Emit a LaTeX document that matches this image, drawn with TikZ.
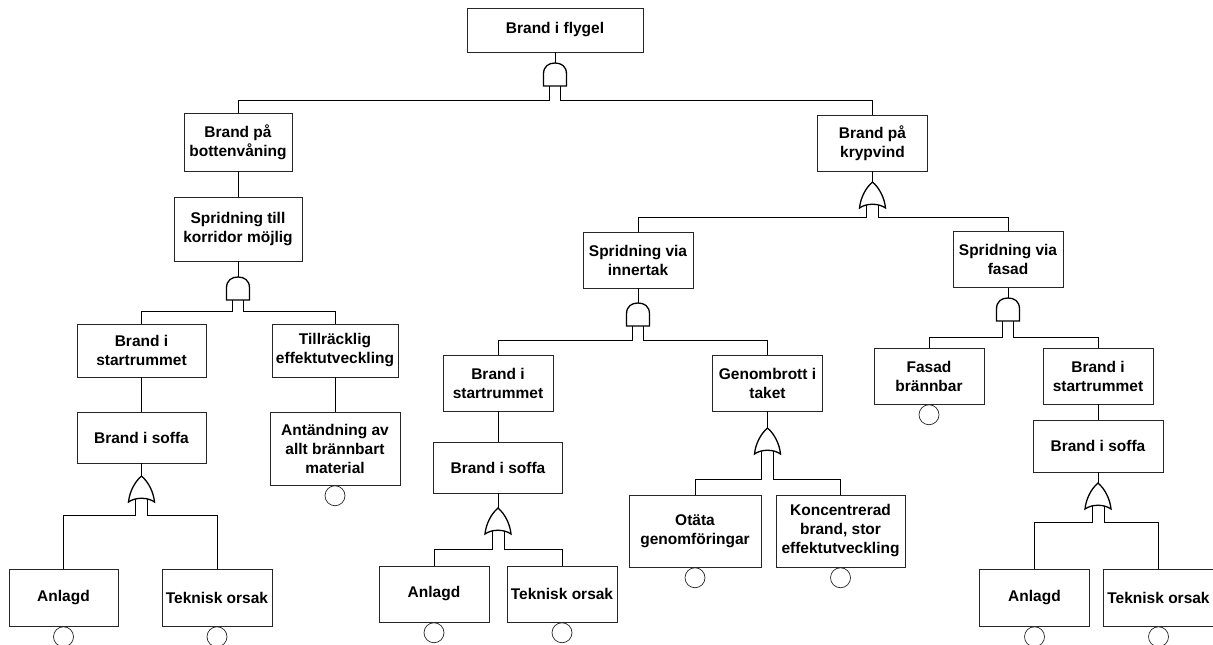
\documentclass[tikz,border=0pt]{standalone}
\usepackage{fontspec}
\setmainfont{Liberation Sans}

\tikzset{
  box/.style={draw=black!85, line width=0.8pt, align=center, minimum width=110pt,
    minimum height=56pt, inner sep=2pt, font=\fontsize{15.5}{19}\selectfont\bfseries},
  wide/.style={minimum width=129pt},
  event/.style={draw=black!85, circle, line width=0.7pt, minimum size=20pt, inner sep=0pt, anchor=north},
  conn/.style={line width=0.8pt},
  gateline/.style={line width=1.3pt},
  andgate/.pic={
    \draw[gateline] (-11.5,23) -- (-11.5,11) .. controls (-11.5,3) and (-6,0) .. (0,0)
      .. controls (6,0) and (11.5,3) .. (11.5,11) -- (11.5,23) -- cycle;
    \coordinate (-t) at (0,0);
    \coordinate (-l) at (-5.5,23);
    \coordinate (-r) at (5.5,23);
    \coordinate (-lb) at (-5.5,23+#1);
    \coordinate (-rb) at (5.5,23+#1);
  },
  orgate/.pic={
    \draw[gateline] (0,0) .. controls (7,6) and (12,16) .. (13,26)
      .. controls (6,21) and (-6,21) .. (-13,26)
      .. controls (-12,16) and (-7,6) .. (0,0) -- cycle;
    \coordinate (-t) at (0,0);
    \coordinate (-l) at (-6,23);
    \coordinate (-r) at (6,23);
    \coordinate (-lb) at (-6,26+#1);
    \coordinate (-rb) at (6,26+#1);
  }
}

\begin{document}
\begin{tikzpicture}[x=1pt, y=-1pt]

  \useasboundingbox (0,0) rectangle (1213,645);

  \node[box, minimum width=176pt, minimum height=44pt] (flygel) at (555,30) {Brand i flygel};

  \node[box, minimum width=108pt, minimum height=58pt] (botten) at (238,142) {Brand på\\bottenvåning};
  \node[box, minimum width=128pt, minimum height=64pt] (korridor) at (238,229) {Spridning till\\korridor möjlig};
  \node[box, wide, minimum height=53pt] (start1) at (141.5,350.5) {Brand i\\startrummet};
  \node[box, minimum width=126pt, minimum height=53pt] (effekt) at (335,350.5) {Tillräcklig\\effektutveckling};
  \node[box, wide, minimum height=51pt] (soffa1) at (141.5,437.5) {Brand i soffa};
  \node[box, minimum width=130pt, minimum height=73pt] (antand) at (335,448.5) {Antändning av\\allt brännbart\\material};
  \node[box, minimum width=109pt, minimum height=57pt] (anlagd1) at (63.5,597.5) {Anlagd};
  \node[box, minimum height=57pt] (teknisk1) at (217,597.5) {Teknisk orsak};

  \node[box] (krypvind) at (872.5,143) {Brand på\\krypvind};
  \node[box] (innertak) at (638,260) {Spridning via\\innertak};
  \node[box] (fasad) at (1008,259.5) {Spridning via\\fasad};
  \node[box] (start2) at (498,383) {Brand i\\startrummet};
  \node[box] (taket) at (767.5,383) {Genombrott i\\taket};
  \node[box, wide, minimum height=51pt] (soffa2) at (498,467.5) {Brand i soffa};
  \node[box] (anlagd2) at (434,594) {Anlagd};
  \node[box] (teknisk2) at (562,594) {Teknisk orsak};
  \node[box, minimum width=132pt, minimum height=72pt] (otata) at (695,531) {Otäta\\genomföringar};
  \node[box, wide, minimum height=72pt] (koncentr) at (840.5,531) {Koncentrerad\\brand, stor\\effektutveckling};
  \node[box] (brannbar) at (929,376) {Fasad\\brännbar};
  \node[box] (start3) at (1098,376) {Brand i\\startrummet};
  \node[box, minimum width=130pt, minimum height=52pt] (soffa3) at (1098,446) {Brand i soffa};
  \node[box, minimum height=57pt] (anlagd3) at (1034.5,597.5) {Anlagd};
  \node[box, minimum height=57pt] (teknisk3) at (1158.5,597.5) {Teknisk orsak};

  \pic (g1) at (555,63) {andgate=14};
  \pic (g2) at (238,277) {andgate=11};
  \pic (g3) at (141.5,476) {orgate=13};
  \pic (g4) at (872.5,182) {orgate=9};
  \pic (g5) at (638,303) {andgate=14};
  \pic (g6) at (767.5,428) {orgate=25};
  \pic (g7) at (498,508) {orgate=15};
  \pic (g8) at (1008,298) {andgate=16};
  \pic (g9) at (1098,483) {orgate=13};

  \foreach \n in {anlagd1, teknisk1, antand, anlagd2, teknisk2, otata, koncentr, brannbar, anlagd3, teknisk3}
    \node[event] (\n-e) at (\n.south) {};

  \draw[conn] (flygel) -- (g1-t);
  \draw[conn] (g1-l) -- (g1-lb) -| (botten.north);
  \draw[conn] (g1-r) -- (g1-rb) -| (krypvind.north);

  \draw[conn] (botten) -- (korridor);
  \draw[conn] (korridor) -- (g2-t);
  \draw[conn] (g2-l) -- (g2-lb) -| (start1.north);
  \draw[conn] (g2-r) -- (g2-rb) -| (effekt.north);
  \draw[conn] (start1) -- (soffa1);
  \draw[conn] (effekt) -- (antand);
  \draw[conn] (soffa1) -- (g3-t);
  \draw[conn] (g3-l) -- (g3-lb) -| (anlagd1.north);
  \draw[conn] (g3-r) -- (g3-rb) -| (teknisk1.north);

  \draw[conn] (krypvind) -- (g4-t);
  \draw[conn] (g4-l) -- (g4-lb) -| (innertak.north);
  \draw[conn] (g4-r) -- (g4-rb) -| (fasad.north);

  \draw[conn] (innertak) -- (g5-t);
  \draw[conn] (g5-l) -- (g5-lb) -| (start2.north);
  \draw[conn] (g5-r) -- (g5-rb) -| (taket.north);
  \draw[conn] (start2) -- (soffa2);
  \draw[conn] (soffa2) -- (g7-t);
  \draw[conn] (g7-l) -- (g7-lb) -| (anlagd2.north);
  \draw[conn] (g7-r) -- (g7-rb) -| (teknisk2.north);
  \draw[conn] (taket) -- (g6-t);
  \draw[conn] (g6-l) -- (g6-lb) -| (otata.north);
  \draw[conn] (g6-r) -- (g6-rb) -| (koncentr.north);

  \draw[conn] (fasad) -- (g8-t);
  \draw[conn] (g8-l) -- (g8-lb) -| (brannbar.north);
  \draw[conn] (g8-r) -- (g8-rb) -| (start3.north);
  \draw[conn] (start3) -- (soffa3);
  \draw[conn] (soffa3) -- (g9-t);
  \draw[conn] (g9-l) -- (g9-lb) -| (anlagd3.north);
  \draw[conn] (g9-r) -- (g9-rb) -| (teknisk3.north);

\end{tikzpicture}
\end{document}
